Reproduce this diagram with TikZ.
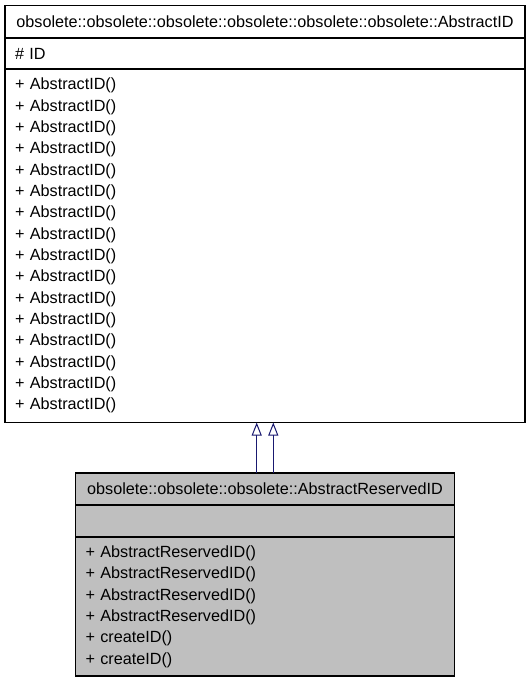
\documentclass[tikz,border=0pt]{standalone}
\usepackage{fontspec}
\setmainfont{Liberation Sans}
\usetikzlibrary{arrows.meta,positioning}
\definecolor{midnight}{HTML}{191970}
\definecolor{derivedgray}{HTML}{BFBFBF}

\begin{document}
\begin{tikzpicture}[
    every node/.style = {font=\fontsize{16.2}{21.33}\selectfont},
    part/.style = {
        rectangle,
        draw,
        line width=1.2pt,
        outer sep=0pt,
        inner xsep=10pt,
        inner ysep=0pt
    },
    abspart/.style = {
        part,
        fill=white,
        minimum width=520pt,
        text width=500pt,
        align=left
    },
    derpart/.style = {
        part,
        fill=derivedgray,
        minimum width=379pt,
        text width=359pt,
        align=left
    },
    inherit/.style = {
        draw=midnight,
        line width=1pt,
        -{Triangle[open, length=13pt, width=10pt]}
    }
]
\useasboundingbox (0,0) rectangle (531pt,-683pt);

% base class
\node[abspart, align=center, minimum height=32.5pt, anchor=north] (abstitle) at (265pt,-5.5pt)
    {obsolete::obsolete::obsolete::obsolete::obsolete::obsolete::AbstractID};
\node[abspart, minimum height=31pt, below=0pt of abstitle] (absattr) {\# ID};
\node[abspart, minimum height=353.5pt, below=0pt of absattr] (absmeth)
    {+ AbstractID()\\+ AbstractID()\\+ AbstractID()\\+ AbstractID()\\
     + AbstractID()\\+ AbstractID()\\+ AbstractID()\\+ AbstractID()\\
     + AbstractID()\\+ AbstractID()\\+ AbstractID()\\+ AbstractID()\\
     + AbstractID()\\+ AbstractID()\\+ AbstractID()\\+ AbstractID()};

% derived class
\node[derpart, align=center, minimum height=32pt, below=50.5pt of absmeth] (dertitle)
    {obsolete::obsolete::obsolete::AbstractReservedID};
\node[derpart, minimum height=32pt, below=0pt of dertitle] (derattr) {};
\node[derpart, minimum height=139pt, below=0pt of derattr] (dermeth)
    {+ AbstractReservedID()\\+ AbstractReservedID()\\+ AbstractReservedID()\\
     + AbstractReservedID()\\+ createID()\\+ createID()};

\draw[inherit] ([xshift=-8.3pt]dertitle.north) -- ([xshift=-8.3pt]dertitle.north |- absmeth.south);
\draw[inherit] ([xshift=8.3pt]dertitle.north) -- ([xshift=8.3pt]dertitle.north |- absmeth.south);

\end{tikzpicture}
\end{document}
